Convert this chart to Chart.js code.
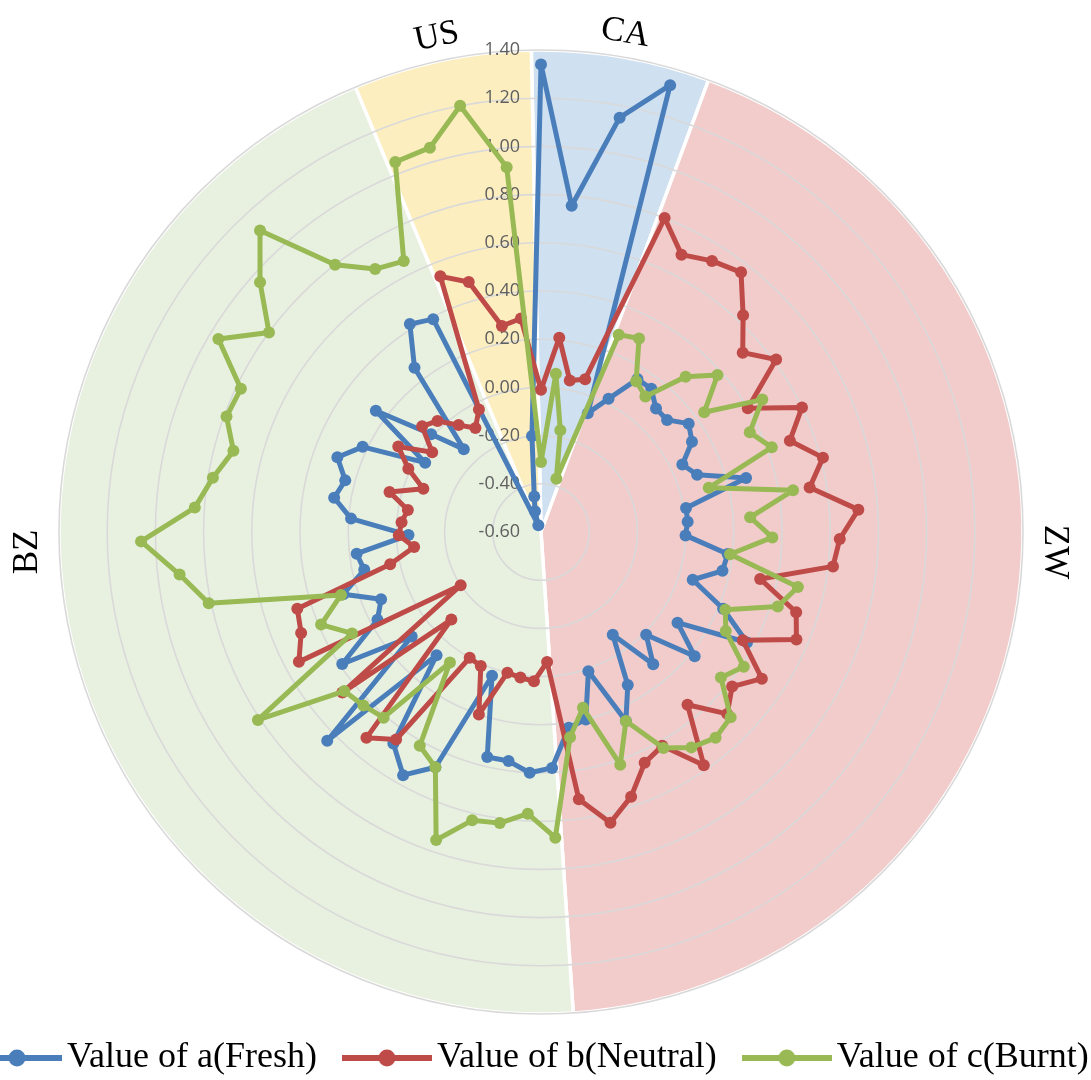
<!DOCTYPE html>
<html>
<head>
<meta charset="utf-8">
<title>Sample values by origin</title>
<script src="https://cdn.jsdelivr.net/npm/chart.js@4.4.1/dist/chart.umd.min.js"></script>
<style>
  html, body { margin: 0; padding: 0; background: #ffffff; overflow: hidden; }
  #frame { position: relative; width: 1091px; height: 1080px; overflow: hidden; }
  #frame canvas { position: absolute; top: 0; }
  #sectors { left: -53px; }
  #radar { left: -39px; }
</style>
</head>
<body>
<div id="frame">
  <canvas id="sectors" width="1188" height="1080"></canvas>
  <canvas id="radar" width="1160" height="1080"></canvas>
</div>
<script>
// Origin groups, in clockwise order from the top, and how many samples each holds
const groups = ['CA', 'ZW', 'BZ', 'US'];
const groupSizes = [4, 29, 30, 4];
const groupColors = ['#cfe0f1', '#f2cbcb', '#e8f1e0', '#fdeec0'];

// One spoke per sample
const categories = groups.flatMap((g, k) =>
  Array.from({ length: groupSizes[k] }, (_, j) => g + (j + 1)));

// Radial tick labels
const tickValues = [-0.6, -0.4, -0.2, 0.0, 0.2, 0.4, 0.6, 0.8, 1.0, 1.2, 1.4];

// Series values, one per sample
const freshValues = [
  1.34, 0.76, 1.15, 1.33,
  -0.07, 0.02, 0.15, 0.15, 0.10, 0.10, 0.16, 0.13, 0.05, 0.09, 0.28, 0.01, 0.01, 0.00,
  0.18, 0.17, 0.06, 0.22, 0.37, 0.08, 0.22, 0.01, 0.12, -0.08, 0.13, 0.26, 0.01, 0.20, 0.22,
  0.38, 0.40, 0.36, 0.36, 0.03, 0.47, 0.56, 0.47, 0.07, 0.64, 0.09, 0.39, 0.17, 0.12, 0.26,
  0.15, 0.17, -0.05, 0.19, 0.27, 0.24, 0.30, 0.22, -0.04, 0.25, 0.01, -0.13, 0.26, 0.42, 0.39,
  -0.57, -0.51, -0.45, -0.20
];
const neutralValues = [
  -0.01, 0.21, 0.04, 0.06,
  0.80, 0.69, 0.73, 0.76, 0.63, 0.52, 0.61, 0.40, 0.60, 0.50, 0.61, 0.53, 0.72, 0.64,
  0.62, 0.33, 0.51, 0.55, 0.35, 0.50, 0.42, 0.48, 0.34, 0.58, 0.42, 0.45, 0.56, 0.64, 0.52,
  -0.06, 0.02, 0.01, 0.00, 0.20, 0.01, 0.00, 0.45, 0.52, -0.08, 0.46, -0.20, 0.54, 0.48, 0.46,
  0.04, -0.07, -0.01, -0.02, -0.04, 0.05, -0.08, 0.01, 0.09, -0.04, 0.06, 0.03, -0.04, -0.09, -0.03,
  0.54, 0.48, 0.27, 0.29
];
const burntValues = [
  -0.31, 0.06, -0.17, -0.37,
  0.28, 0.30, 0.14, 0.11, 0.28, 0.38, 0.24, 0.47, 0.36, 0.42, 0.12, 0.46, 0.27, 0.36,
  0.19, 0.49, 0.43, 0.23, 0.27, 0.41, 0.36, 0.50, 0.52, 0.49, 0.43, 0.26, 0.42, 0.15, 0.26,
  0.67, 0.57, 0.62, 0.63, 0.75, 0.47, 0.42, 0.06, 0.41, 0.43, 0.45, 0.81, 0.29, 0.39, 0.27,
  0.81, 0.91, 1.06, 0.84, 0.78, 0.72, 0.79, 0.78, 0.96, 0.80, 0.96, 1.11, 0.80, 0.69, 0.66,
  1.05, 1.06, 1.20, 0.92
];

const seriesNames = ['Value of a(Fresh)', 'Value of b(Neutral)', 'Value of c(Burnt)'];
const seriesColors = ['#4a7ebb', '#be4b48', '#98b954'];

const radarCanvas = document.getElementById('radar');
const sectorCanvas = document.getElementById('sectors');

// Legend swatch: a short stroke with a dot in the middle
function legendSwatch(color) {
  const c = document.createElement('canvas');
  c.width = 90; c.height = 22;
  const g = c.getContext('2d');
  g.strokeStyle = color; g.lineWidth = 6;
  g.beginPath(); g.moveTo(0, 11); g.lineTo(90, 11); g.stroke();
  g.fillStyle = color;
  g.beginPath(); g.arc(45, 11, 8.5, 0, Math.PI * 2); g.fill();
  return c;
}
const swatches = seriesColors.map(legendSwatch);

// Tick labels sit just left of the vertical axis, under the series lines
const radialTickLabels = {
  id: 'radialTickLabels',
  beforeDatasetsDraw(chart) {
    const s = chart.scales.r;
    const ctx = chart.ctx;
    ctx.save();
    ctx.font = '18px "Open Sans", sans-serif';
    ctx.fillStyle = '#5f5f5f';
    ctx.textAlign = 'right';
    ctx.textBaseline = 'middle';
    s.ticks.forEach(t => {
      const d = s.getDistanceFromCenterForValue(t.value);
      ctx.fillText(t.value.toFixed(2), s.xCenter - 21, s.yCenter - d);
    });
    ctx.restore();
  }
};

function makeSeries(i, values, order) {
  const c = seriesColors[i];
  return {
    label: seriesNames[i],
    data: values,
    borderColor: c,
    backgroundColor: c,
    pointBackgroundColor: c,
    pointBorderColor: c,
    borderWidth: 5,
    borderJoinStyle: 'round',
    borderCapStyle: 'round',
    pointRadius: 6,
    pointBorderWidth: 0,
    fill: false,
    tension: 0,
    order: order
  };
}

const radar = new Chart(radarCanvas, {
  type: 'radar',
  data: {
    labels: categories,
    datasets: [
      makeSeries(0, freshValues, 2),
      makeSeries(1, neutralValues, 1),
      makeSeries(2, burntValues, 0)
    ]
  },
  options: {
    responsive: false,
    animation: false,
    events: [],
    layout: { padding: { top: 50, bottom: 66, left: 0, right: 0 } },
    scales: {
      r: {
        min: -0.6,
        max: 1.4,
        afterBuildTicks(scale) { scale.ticks = tickValues.map(v => ({ value: v })); },
        ticks: { display: false },
        grid: { circular: true, color: '#d9d9d9', lineWidth: 1.6 },
        angleLines: { display: false },
        pointLabels: { display: false }
      }
    },
    plugins: {
      tooltip: { enabled: false },
      legend: { display: false }
    }
  },
  plugins: [radialTickLabels]
});

// Group sectors behind the radar, sharing its centre and outer ring.
// This lower canvas also carries the shared series legend.
const rs = radar.scales.r;
const shift = radarCanvas.offsetLeft - sectorCanvas.offsetLeft;
const cx = rs.xCenter + shift, cy = rs.yCenter, R = rs.drawingArea;
const Wp = sectorCanvas.width;

const sectorLabels = {
  id: 'sectorLabels',
  afterDatasetsDraw(chart) {
    const ctx = chart.ctx;
    const arcs = chart.getDatasetMeta(0).data;
    ctx.save();
    ctx.font = '35px "Liberation Serif", serif';
    ctx.fillStyle = '#000000';
    ctx.textAlign = 'center';
    ctx.textBaseline = 'middle';
    arcs.forEach((arc, i) => {
      const p = arc.getProps(['x', 'y', 'startAngle', 'endAngle', 'outerRadius'], true);
      let a = (p.startAngle + p.endAngle) / 2;
      let side = false;
      // wide sectors carry their label at the horizontal, set a little low
      [0, Math.PI, 2 * Math.PI, -Math.PI].forEach(h => {
        if (h > p.startAngle && h < p.endAngle) { a = h; side = true; }
      });
      const d = p.outerRadius + (side ? 31 : 24);
      ctx.save();
      ctx.translate(p.x + d * Math.cos(a), p.y + d * Math.sin(a) + (side ? 20 : 0));
      ctx.rotate(a + Math.PI / 2);
      ctx.fillText(chart.data.labels[i], 0, 0);
      ctx.restore();
    });
    ctx.restore();
  }
};

const sectors = new Chart(sectorCanvas, {
  type: 'pie',
  data: {
    labels: groups,
    datasets: [{
      data: groupSizes,
      backgroundColor: groupColors,
      borderColor: '#ffffff',
      borderWidth: 3.5
    }]
  },
  options: {
    responsive: false,
    animation: false,
    events: [],
    rotation: -1.15,
    radius: R,
    layout: { padding: { left: 0, right: Wp - 2 * cx, top: 0, bottom: -6 } },
    plugins: {
      tooltip: { enabled: false },
      legend: {
        display: true,
        position: 'bottom',
        align: 'start',
        labels: {
          usePointStyle: true,
          pointStyleWidth: 64,
          padding: 38,
          color: '#000000',
          font: { family: '"Liberation Serif", serif', size: 36 },
          generateLabels() {
            return radar.data.datasets.map((ds, i) => ({
              text: ds.label,
              pointStyle: swatches[i],
              fillStyle: ds.borderColor,
              strokeStyle: ds.borderColor,
              lineWidth: 0,
              hidden: false,
              datasetIndex: i
            }));
          }
        }
      }
    }
  },
  plugins: [sectorLabels]
});

// Centre the sectors vertically on the radar now that the legend height is known
sectors.options.layout.padding.top = 2 * cy - sectors.legend.top;
sectors.update();
</script>
</body>
</html>
